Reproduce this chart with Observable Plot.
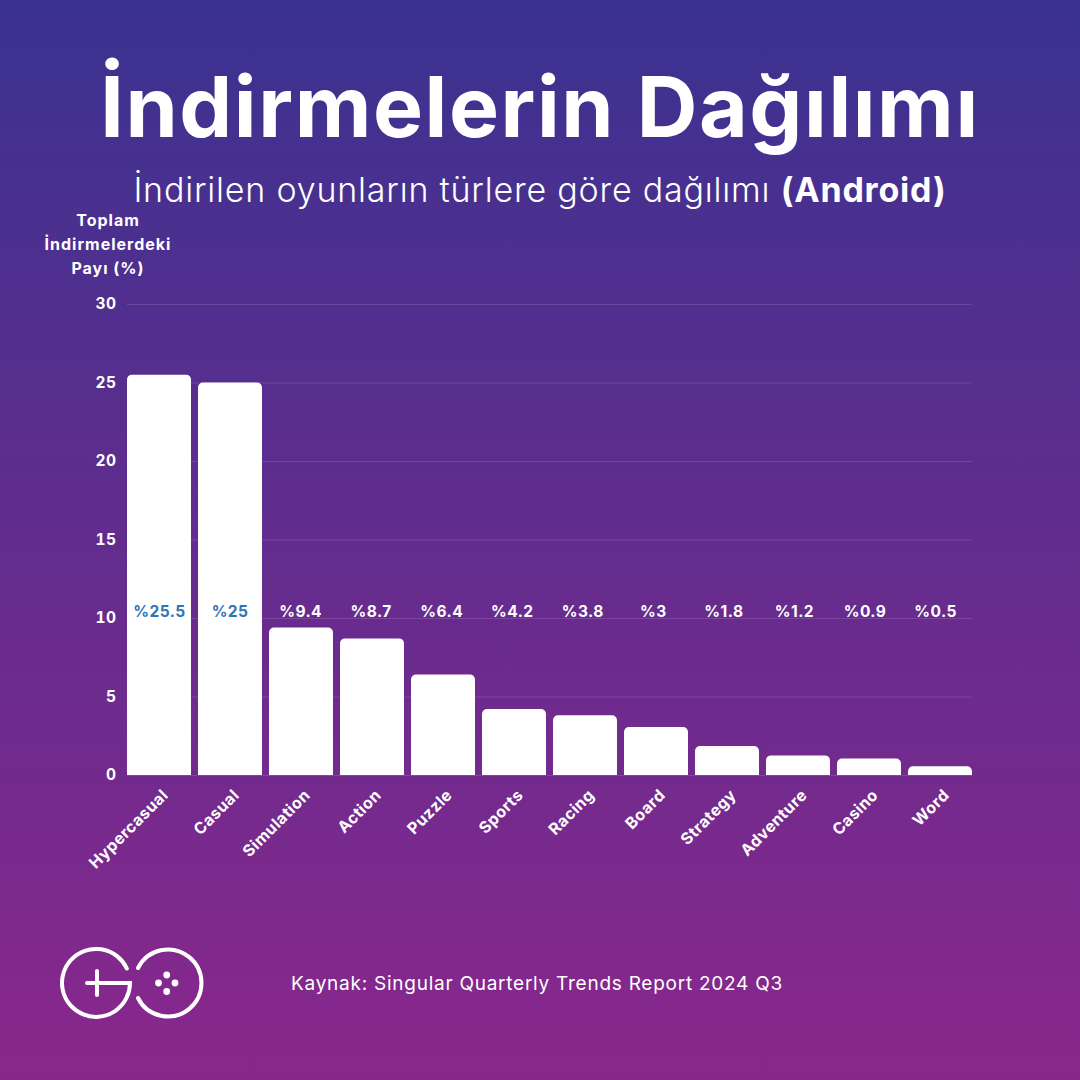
<!DOCTYPE html>
<html lang="tr">
<head>
<meta charset="utf-8">
<script src="https://cdn.jsdelivr.net/npm/d3@7"></script>
<script src="https://cdn.jsdelivr.net/npm/@observablehq/plot@0.6"></script>
<style>
html,body{margin:0;padding:0;width:1080px;height:1080px;overflow:hidden}
#page{position:relative;width:1080px;height:1080px;background:linear-gradient(180deg,#3a3290 0%,#8a278c 100%);font-family:Inter,"Open Sans",sans-serif;color:#fff}
#page>div{position:absolute;white-space:nowrap}
#title{left:0;width:1080px;top:57px;text-align:center;font-size:84px;line-height:100px;font-weight:700;letter-spacing:1.6px}
#subtitle{left:0;width:1080px;top:168px;text-align:center;font-size:34px;line-height:44px;font-weight:300;letter-spacing:.8px}
#subtitle b{font-weight:700}
#ytitle{left:28px;width:160px;top:208px;text-align:center;font-size:16px;line-height:24px;font-weight:700;letter-spacing:1px}
#source{left:291px;top:970px;font-size:19px;line-height:28px;font-weight:400;letter-spacing:.75px}
#chart{left:0;top:204px}
#logo{left:0;top:930px}
#chart svg text{letter-spacing:.45px}
</style>
</head>
<body>
<div id="page">
  <div id="title">İndirmelerin Dağılımı</div>
  <div id="subtitle">İndirilen oyunların türlere göre dağılımı <b>(Android)</b></div>
  <div id="ytitle">Toplam<br>İndirmelerdeki<br>Payı (%)</div>
  <div id="chart"></div>
  <div id="logo">
    <svg width="230" height="100" viewBox="0 930 230 100" fill="none" stroke="#fff" stroke-width="4" stroke-linecap="round">
      <path d="M126.8 968.5A34 34 0 1 0 130 983H87"/>
      <path d="M97 971V995"/>
      <path d="M138 968A33.5 33.5 0 1 1 138 998"/>
      <g fill="#fff" stroke="none">
        <circle cx="166.7" cy="975" r="3.4"/><circle cx="175" cy="983" r="3.4"/>
        <circle cx="166.7" cy="991.5" r="3.4"/><circle cx="158.5" cy="983" r="3.4"/>
      </g>
    </svg>
  </div>
  <div id="source">Kaynak: Singular Quarterly Trends Report 2024 Q3</div>
</div>
<script>
const categories = ["Hypercasual","Casual","Simulation","Action","Puzzle","Sports","Racing","Board","Strategy","Adventure","Casino","Word"];
const barValues = [25.5,25,9.4,8.7,6.4,4.2,3.8,3.05,1.85,1.25,1.05,0.55];
const valueLabels = ["%25.5","%25","%9.4","%8.7","%6.4","%4.2","%3.8","%3","%1.8","%1.2","%0.9","%0.5"];
const yTicks = [0,5,10,15,20,25,30];
const labelLevel = 10.4;

const rows = categories.map((c,i)=>({category:c,value:barValues[i],label:valueLabels[i]}));

const chart = Plot.plot({
  width:1080, height:700,
  marginLeft:127, marginRight:108, marginTop:100, marginBottom:129,
  style:{background:"transparent",color:"#fff",fontFamily:"Inter, sans-serif",overflow:"visible"},
  x:{domain:categories,paddingInner:0.0986,paddingOuter:0,round:false,label:null},
  y:{domain:[0,30],label:null},
  marks:[
    Plot.ruleY(yTicks,{stroke:"#fff",strokeOpacity:0.13,strokeWidth:1}),
    Plot.axisY({ticks:yTicks,tickSize:0,tickPadding:11,label:null,fontSize:15.5,fontWeight:700,fill:"#fff"}),
    Plot.axisX({tickSize:0,tickPadding:13,tickRotate:-45,dx:6,dy:4,label:null,fontSize:16,fontWeight:700,fill:"#fff"}),
    Plot.barY(rows,{x:"category",y:"value",fill:"#fff",ry1:5}),
    rows.map((d,i)=>Plot.text([d],{x:"category",y:()=>labelLevel,text:"label",fontSize:15.5,fontWeight:700,
      dx:-0.45*i,
      fill:d.value>labelLevel?"#2e75b6":"#fff"}))
  ]
});
document.getElementById("chart").appendChild(chart);
</script>
</body>
</html>
